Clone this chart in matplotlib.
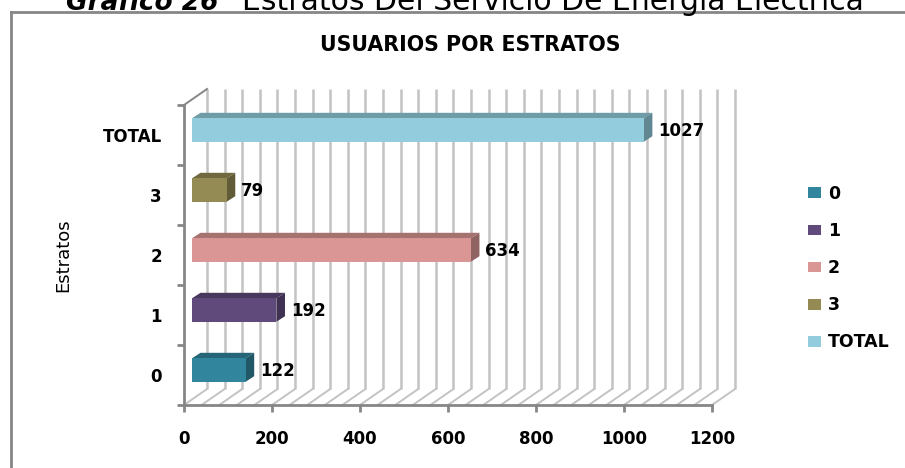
"""
Gráfico 26 - Usuarios por estratos del servicio de energía eléctrica.
Barras horizontales con efecto 3D (estilo Excel) dibujadas a mano con polígonos.
"""
import numpy as np
import matplotlib
matplotlib.use("Agg")
import matplotlib.pyplot as plt
from matplotlib.patches import Polygon, Rectangle, Patch
from matplotlib.lines import Line2D

# --- Datos ------------------------------------------------------------------
categorias = ["0", "1", "2", "3", "TOTAL"]
usuarios = [122, 192, 634, 79, 1027]
colores = ["#31859C", "#604A7B", "#D99694", "#948A54", "#93CDDD"]
xticks = [0, 200, 400, 600, 800, 1000, 1200]

W, H = 905, 468
fig = plt.figure(figsize=(W / 100, H / 100), dpi=100)

# área del plano frontal, en píxeles
L, R, T, B = 184, 712, 105, 405
ax = fig.add_axes([L / W, 1 - B / H, (R - L) / W, (B - T) / H])
ax.set_xlim(0, 1200)
ax.set_ylim(-0.5, 4.5)

# conversión píxel -> unidades de datos (para los desplazamientos de profundidad)
PX = 1200 / (R - L)
PY = 5 / (B - T)
BX, BY = 23 * PX, 16 * PY      # pared del fondo
FX, FY = 8 * PX, 5 * PY        # cara frontal de las barras
DX, DY = 8.5 * PX, 5.5 * PY    # profundidad de la barra
ALTO = 0.39

GRID = "#c3c3c3"
EJE = "#868686"

# --- Paredes: rejilla del fondo y del piso -------------------------------------
for v in np.arange(0, 1201, 40):
    ax.plot([v + BX, v + BX], [-0.5 + BY, 4.5 + BY], color=GRID, lw=1.8,
            zorder=1, clip_on=False, solid_capstyle="butt")
    ax.plot([v, v + BX], [-0.5, -0.5 + BY], color=GRID, lw=1.4,
            zorder=1, clip_on=False)
# arista superior de la pared lateral
ax.plot([0, BX], [4.5, 4.5 + BY], color=EJE, lw=1.4, zorder=2, clip_on=False)


def oscurecer(hex_color, f):
    r, g, b = matplotlib.colors.to_rgb(hex_color)
    return (r * f, g * f, b * f)


# --- Barras 3D ----------------------------------------------------------------
for i, (v, c) in enumerate(zip(usuarios, colores)):
    x0, x1 = FX, v + FX
    yb, yt = i + FY - ALTO / 2, i + FY + ALTO / 2
    top = Polygon([(x0, yt), (x1, yt), (x1 + DX, yt + DY), (x0 + DX, yt + DY)],
                  closed=True, facecolor=oscurecer(c, 0.76), edgecolor="none",
                  zorder=3, clip_on=False)
    side = Polygon([(x1, yb), (x1 + DX, yb + DY), (x1 + DX, yt + DY), (x1, yt)],
                   closed=True, facecolor=oscurecer(c, 0.66), edgecolor="none",
                   zorder=3, clip_on=False)
    front = Rectangle((x0, yb), v, ALTO, facecolor=c, edgecolor="none",
                      zorder=4, clip_on=False)
    for p in (top, side, front):
        ax.add_patch(p)
    ax.text(x1 + DX + 6 * PX, i + FY - 1 * PY, str(v), ha="left", va="center",
            fontsize=12, fontweight="bold", color="black", zorder=5)

# --- Ejes -----------------------------------------------------------------------
for s in ("top", "right"):
    ax.spines[s].set_visible(False)
for s in ("left", "bottom"):
    ax.spines[s].set_color(EJE)
    ax.spines[s].set_linewidth(2)
ax.set_yticks(range(len(categorias)))
ax.set_yticklabels(categorias, fontsize=12, fontweight="bold")
ax.set_yticks(np.arange(-0.5, 4.6, 1), minor=True)
ax.tick_params(axis="y", which="major", length=0, pad=16)
ax.tick_params(axis="y", which="minor", length=5, width=2, color=EJE)
ax.set_xticks(xticks)
ax.set_xticklabels([str(t) for t in xticks], fontsize=12, fontweight="bold")
ax.tick_params(axis="x", length=5, width=2, color=EJE, pad=13)
ax.set_facecolor("none")

fig.text(63 / W, 1 - 255 / H, "Estratos", rotation=90, ha="center", va="center",
         fontsize=13, family=["Liberation Sans Narrow", "DejaVu Sans"])

# título del gráfico
fig.text(470 / W, 1 - 45 / H, "USUARIOS POR ESTRATOS", ha="center", va="center",
         fontsize=14.8, fontweight="bold")

# título del documento, cortado por el borde superior (como en el original)
fig.text(218 / W, 1 - 10 / H, "Gráfico 26", ha="right", va="baseline",
         fontsize=19, fontweight="bold", style="italic")
fig.text(242 / W, 1 - 10 / H, "Estratos Del Servicio De Energía Eléctrica",
         ha="left", va="baseline", fontsize=21.5)

# borde del área del gráfico
fig.add_artist(Line2D([11 / W, 11 / W], [0, 1 - 12 / H], color=EJE, lw=2))
fig.add_artist(Line2D([11 / W, 1], [1 - 12 / H, 1 - 12 / H], color=EJE, lw=2))

# --- Leyenda ------------------------------------------------------------------
handles = [Patch(facecolor=c, edgecolor="none") for c in colores]
fig.legend(handles, categorias, loc="upper left",
           bbox_to_anchor=(808 / W, 1 - 185 / H), frameon=False,
           prop={"weight": "bold", "size": 12.5}, handlelength=0.75,
           handleheight=0.58, handletextpad=0.4, labelspacing=1.1,
           borderpad=0, borderaxespad=0)

fig.savefig("out.png", dpi=100)
